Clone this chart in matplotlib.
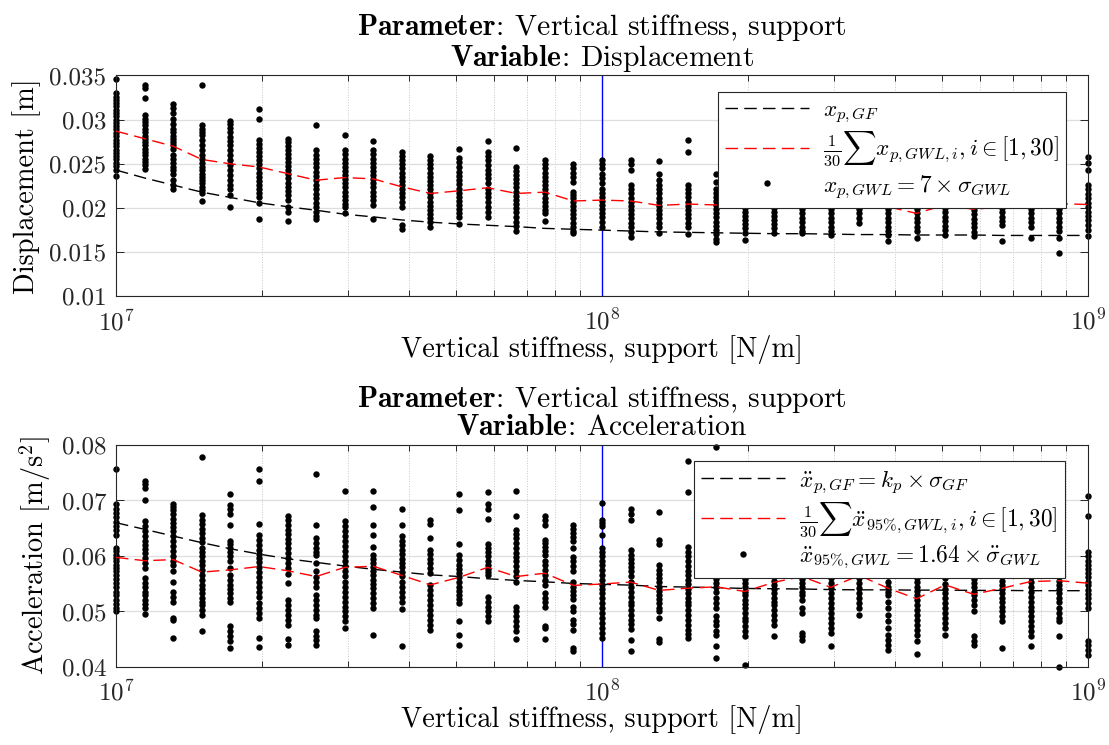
import numpy as np
import matplotlib.pyplot as plt
from matplotlib.lines import Line2D
from matplotlib.ticker import NullFormatter

plt.rcParams['font.family'] = 'serif'
plt.rcParams['font.serif'] = ['cmr10']
plt.rcParams['mathtext.fontset'] = 'cm'
plt.rcParams['axes.unicode_minus'] = False
plt.rcParams['font.size'] = 18

# Parameter sweep: vertical support stiffness [N/m], 35 log-spaced cases
stiffness = np.logspace(7, 9, 35)

# Displacement per case, GWL realisations [mm]
disp_gwl = [
    [34.6, 33.0, 32.6, 32.25, 31.9, 31.5, 31.1, 30.75, 30.4, 30.0, 29.6, 29.25, 28.9, 28.5, 28.1, 27.75, 27.35, 27.0, 26.6, 26.25, 25.85, 25.5, 25.1, 24.75, 24.3, 23.6],
    [33.9, 33.6, 32.4, 30.5, 30.1, 29.75, 29.4, 29.0, 28.6, 28.2, 27.85, 27.5, 27.1, 26.7, 26.35, 26.0, 25.6, 25.2, 24.85, 24.4],
    [31.8, 31.35, 30.7, 30.1, 29.55, 29.0, 28.6, 28.2, 27.85, 27.5, 27.1, 26.7, 26.0, 25.6, 25.05, 24.65, 24.3, 23.9, 23.15, 22.6, 22.2],
    [33.9, 29.35, 29.0, 28.6, 28.25, 27.65, 27.1, 26.55, 26.0, 25.6, 25.05, 24.65, 24.3, 23.9, 23.55, 23.15, 22.8, 22.4, 22.05, 21.65, 20.8],
    [29.85, 29.5, 29.1, 28.6, 28.05, 27.6, 27.1, 26.55, 26.0, 25.4, 24.85, 24.3, 23.7, 23.15, 22.6, 22.2, 21.45, 20.15],
    [31.25, 30.05, 27.65, 27.3, 26.85, 26.35, 25.85, 25.4, 24.95, 24.5, 24.0, 23.55, 23.1, 22.6, 22.1, 21.65, 21.3, 20.6, 18.8],
    [27.85, 27.5, 27.0, 26.55, 26.1, 25.7, 25.2, 24.75, 24.3, 23.85, 23.35, 22.85, 22.4, 21.95, 21.45, 20.9, 20.15, 19.5, 18.55],
    [29.35, 26.55, 26.0, 25.5, 25.05, 24.6, 24.1, 23.6, 23.15, 22.6, 22.1, 21.6, 21.1, 20.6, 20.15, 19.6, 19.15, 18.75],
    [28.25, 26.55, 26.1, 25.6, 25.15, 24.65, 24.2, 23.7, 23.25, 22.8, 22.35, 21.85, 21.4, 20.9, 20.5, 20.15, 19.4],
    [27.6, 26.55, 26.1, 25.6, 25.1, 24.65, 24.2, 23.7, 23.25, 22.8, 22.35, 21.85, 21.35, 20.9, 20.35, 18.75],
    [26.35, 25.85, 25.4, 24.95, 24.5, 24.0, 23.55, 23.1, 22.6, 22.1, 21.65, 21.2, 20.7, 20.15, 18.1, 17.6],
    [25.85, 25.4, 24.95, 24.5, 24.0, 23.55, 23.1, 22.6, 22.1, 21.65, 21.2, 20.7, 20.2, 19.75, 19.3, 18.85, 18.45, 17.8],
    [26.7, 25.7, 25.2, 24.65, 24.1, 23.6, 23.15, 22.7, 22.2, 21.7, 21.3, 20.8, 20.35, 19.85, 19.4, 18.95, 18.25],
    [27.55, 26.35, 25.85, 25.4, 24.85, 24.35, 23.85, 23.35, 22.8, 22.2, 21.75, 21.3, 20.7, 20.15, 19.6, 19.0],
    [26.75, 24.65, 24.2, 23.7, 23.25, 22.8, 22.35, 21.85, 21.35, 20.9, 20.45, 19.95, 19.5, 19.0, 18.45, 17.95, 17.45],
    [25.4, 24.95, 24.5, 24.0, 23.55, 23.1, 22.6, 22.1, 21.65, 21.15, 20.7, 20.2, 19.75, 19.4, 18.55],
    [24.95, 24.5, 24.0, 23.55, 23.0, 21.85, 21.45, 21.1, 20.7, 20.2, 19.75, 19.3, 18.85, 18.35, 17.9, 17.45, 17.15],
    [25.4, 24.95, 24.5, 23.9, 23.35, 22.8, 22.2, 21.75, 21.3, 20.8, 20.35, 19.85, 19.4, 18.95, 18.45, 17.9],
    [25.4, 24.95, 24.35, 22.6, 22.1, 21.65, 21.15, 20.7, 20.2, 19.75, 19.3, 18.85, 18.35, 17.9, 17.3, 16.7],
    [25.35, 23.9, 23.15, 22.6, 22.1, 21.65, 21.15, 20.7, 20.2, 19.75, 19.3, 18.85, 18.35, 17.9, 17.15],
    [27.75, 26.35, 22.6, 22.1, 21.65, 21.2, 20.7, 20.2, 19.75, 19.3, 18.85, 18.35, 17.9, 17.05],
    [23.8, 23.0, 22.2, 21.75, 21.3, 20.8, 20.35, 19.85, 19.4, 18.95, 18.45, 17.95, 17.5, 17.05, 16.55, 16.2],
    [24.5, 23.5, 22.4, 21.95, 21.45, 21.0, 20.5, 20.05, 19.6, 19.1, 18.65, 18.2, 17.7, 17.2, 16.4],
    [23.2, 22.4, 21.95, 21.45, 21.0, 20.5, 20.05, 19.6, 19.1, 18.65, 18.2, 17.7, 17.2],
    [24.3, 23.5, 22.4, 21.9, 21.4, 20.9, 20.4, 19.9, 19.4, 18.9, 18.4, 17.9, 17.4, 17.15],
    [23.6, 22.4, 21.9, 21.4, 20.9, 20.4, 19.9, 19.4, 18.9, 18.4, 17.9, 17.4, 16.95],
    [24.5, 23.5, 22.4, 21.9, 21.4, 20.9, 20.4, 19.9, 19.4, 18.9, 18.3],
    [22.4, 21.9, 21.4, 20.9, 20.4, 19.9, 19.4, 18.9, 18.4, 17.9, 17.4, 17.0, 16.3],
    [22.4, 21.9, 21.4, 20.9, 20.4, 19.9, 19.4, 18.9, 18.4, 17.9, 17.4, 16.6],
    [23.0, 22.0, 21.5, 21.0, 20.5, 20.0, 19.5, 19.0, 18.5, 18.0, 17.5, 17.0],
    [22.4, 21.9, 21.3, 20.8, 20.3, 19.8, 19.3, 18.8, 18.3, 17.8, 17.3, 16.8],
    [23.0, 22.0, 21.5, 21.0, 20.5, 20.0, 19.5, 19.0, 18.5, 18.1, 16.3],
    [22.4, 21.9, 21.4, 20.9, 20.4, 19.9, 19.4, 18.9, 18.4, 17.9, 16.6],
    [22.4, 21.9, 21.4, 20.9, 20.4, 19.9, 19.4, 18.9, 18.4, 17.9, 17.4, 16.6, 14.9],
    [25.8, 25.05, 24.3, 22.6, 22.1, 21.6, 21.1, 20.6, 20.1, 19.6, 19.1, 18.6, 18.1, 17.5, 16.8],
]

# Mean over the GWL realisations and the GF reference [mm]
disp_mean = [28.7, 27.85, 27.0, 25.5, 25.0, 24.65, 23.9, 23.15, 23.45, 23.3, 22.4, 21.65,
             21.95, 22.3, 21.65, 21.8, 20.8, 20.9, 20.8, 20.3, 20.45, 20.35, 20.3, 20.5,
             20.9, 20.35, 21.1, 20.15, 19.4, 20.35, 19.85, 20.15, 20.4, 20.5, 20.4]
disp_gf = [24.3, 23.4, 22.6, 21.8, 21.2, 20.6, 20.15, 19.75, 19.3, 19.0, 18.65, 18.4,
           18.2, 18.05, 17.9, 17.7, 17.6, 17.5, 17.4, 17.3, 17.25, 17.2, 17.15, 17.1,
           17.1, 17.05, 17.0, 17.0, 16.95, 16.95, 16.95, 16.9, 16.9, 16.9, 16.9]

# 95% acceleration per case [1e-3 m/s^2]
accel_gwl = [
    [75.6, 69.3, 68.55, 67.8, 67.0, 66.15, 65.35, 64.6, 63.85, 61.45, 60.85, 60.25, 59.65, 59.05, 58.45, 57.85, 57.25, 56.6, 55.9, 55.1, 54.35, 53.6, 52.9, 52.1, 51.35, 50.6, 50.0],
    [73.5, 72.9, 72.3, 70.0, 66.25, 65.35, 64.45, 63.55, 62.75, 62.05, 61.3, 60.55, 59.65, 58.75, 57.85, 56.0, 55.1, 54.35, 53.6, 52.9, 52.1, 51.35, 50.6, 49.5],
    [69.4, 68.8, 68.2, 67.5, 66.75, 65.95, 65.2, 64.45, 63.55, 62.65, 61.75, 60.85, 59.95, 59.15, 58.45, 57.35, 55.4, 53.6, 52.7, 51.8, 48.9, 48.5, 45.3],
    [77.9, 67.35, 66.55, 65.8, 64.95, 64.15, 63.25, 62.55, 61.45, 60.75, 59.95, 59.15, 58.45, 57.55, 56.6, 55.7, 54.8, 54.1, 53.3, 52.5, 51.8, 51.1, 50.3, 49.4, 46.4],
    [71.1, 69.15, 68.4, 67.5, 65.55, 62.75, 62.15, 61.45, 60.75, 59.95, 59.15, 57.85, 56.6, 55.7, 54.8, 54.1, 53.3, 52.4, 51.8, 47.45, 46.4, 45.5, 44.6, 43.5],
    [75.6, 73.5, 65.8, 63.85, 62.95, 62.05, 61.15, 60.35, 59.65, 58.85, 57.95, 57.1, 56.15, 55.3, 54.35, 53.5, 52.55, 51.5, 50.7, 49.7, 48.8, 45.2, 43.65],
    [67.2, 66.4, 65.55, 64.75, 63.95, 63.15, 62.35, 61.45, 60.55, 59.65, 58.75, 57.85, 56.75, 55.1, 52.1, 51.2, 50.3, 49.4, 48.5, 47.6, 45.05, 43.95],
    [74.8, 65.65, 63.25, 62.35, 61.45, 60.75, 60.1, 58.75, 57.25, 56.3, 55.4, 54.5, 53.0, 52.1, 51.2, 50.3, 49.4, 48.8, 46.4, 45.65, 44.9, 44.0],
    [71.7, 66.25, 65.35, 64.45, 63.55, 62.65, 61.75, 60.85, 59.95, 59.05, 58.15, 57.25, 56.35, 55.4, 54.5, 53.6, 52.7, 51.8, 50.9, 50.0, 49.1, 48.2, 47.0],
    [71.7, 68.8, 65.55, 63.85, 61.55, 60.25, 59.5, 58.75, 57.95, 57.25, 56.5, 55.7, 54.95, 54.2, 53.3, 52.4, 51.5, 50.6, 45.8],
    [68.55, 65.65, 63.55, 62.75, 62.05, 61.15, 60.35, 59.5, 58.75, 57.95, 57.1, 56.35, 55.4, 54.5, 53.6, 52.7, 51.8, 50.45, 43.85],
    [66.55, 65.8, 63.25, 61.15, 60.35, 59.5, 58.75, 57.85, 57.0, 54.8, 53.9, 53.0, 52.1, 51.2, 50.3, 49.4, 48.5, 47.6, 46.7],
    [71.2, 68.2, 62.15, 60.25, 59.35, 58.45, 57.7, 56.95, 56.15, 55.4, 54.5, 53.75, 53.0, 52.3, 51.5, 48.3, 45.8, 44.0],
    [71.6, 69.3, 68.55, 66.75, 62.15, 61.45, 60.75, 59.95, 59.15, 58.45, 57.7, 57.1, 56.6, 52.7, 51.8, 50.9, 50.0, 49.1, 48.2],
    [71.7, 67.2, 64.75, 63.95, 63.25, 62.35, 61.45, 60.55, 59.75, 59.05, 58.15, 57.25, 56.35, 55.4, 50.9, 50.0, 49.1, 48.2, 47.3, 46.4, 45.05],
    [67.2, 66.4, 65.65, 62.95, 62.35, 61.55, 60.85, 60.1, 59.15, 58.3, 57.55, 56.6, 55.7, 54.8, 53.3, 52.4, 51.7, 50.9, 47.45, 47.0, 45.05],
    [65.65, 64.95, 64.15, 63.4, 62.65, 61.45, 59.75, 59.05, 58.15, 57.25, 55.4, 54.5, 53.75, 53.0, 52.3, 50.9, 50.0, 48.5, 47.7, 46.7, 43.5, 42.8],
    [69.6, 66.55, 65.95, 65.35, 63.85, 61.45, 60.75, 59.95, 59.15, 58.45, 57.55, 56.6, 55.7, 54.8, 54.1, 53.3, 52.4, 51.5, 50.6, 49.7, 48.8, 47.9, 47.0, 46.1, 45.2],
    [68.55, 67.5, 66.4, 61.15, 60.25, 59.5, 58.75, 57.95, 57.25, 56.35, 55.4, 54.5, 53.6, 52.7, 51.8, 51.1, 50.3, 49.4, 48.5, 47.7, 46.85, 44.9, 42.8],
    [67.9, 62.95, 62.15, 58.3, 57.55, 56.75, 56.0, 55.3, 54.5, 53.75, 53.0, 52.3, 51.5, 50.7, 50.0, 48.9, 45.05, 44.45],
    [77.2, 71.6, 61.55, 60.75, 59.95, 59.05, 58.15, 57.25, 56.5, 55.7, 54.95, 54.1, 53.3, 52.5, 51.8, 51.1, 50.3, 49.4, 48.5, 47.6, 46.7, 45.9, 45.2],
    [79.6, 65.0, 62.0, 59.35, 58.45, 57.55, 56.75, 55.9, 55.1, 54.35, 53.6, 52.4, 51.5, 50.6, 49.1, 48.2, 47.5, 46.4, 45.8, 43.85, 41.7],
    [64.0, 62.0, 59.75, 58.9, 58.15, 57.35, 56.6, 55.9, 55.1, 54.35, 53.6, 52.9, 52.1, 51.35, 50.6, 49.7, 48.9, 48.2, 47.3, 46.4, 45.5, 40.4],
    [61.0, 59.5, 58.75, 57.85, 57.1, 56.35, 55.55, 54.8, 54.1, 53.3, 52.5, 51.8, 51.1, 50.3, 49.4, 48.5, 47.6, 45.5],
    [63.0, 62.0, 59.65, 58.9, 58.15, 57.35, 56.6, 55.9, 55.1, 54.35, 53.6, 52.9, 52.1, 50.6, 49.7, 46.1, 45.5, 44.9],
    [61.5, 59.65, 58.75, 57.85, 56.95, 56.05, 55.1, 54.2, 53.3, 52.4, 51.5, 50.6, 49.7, 48.8, 47.9, 47.0, 46.1, 43.7],
    [64.0, 62.0, 59.35, 58.75, 58.15, 56.6, 56.05, 55.1, 54.2, 53.3, 52.4, 51.5, 50.6, 49.4],
    [63.5, 62.0, 59.65, 58.75, 57.85, 57.1, 56.35, 55.4, 54.5, 53.6, 53.0, 51.8, 50.6, 49.4, 48.2, 47.0, 45.8, 44.9, 44.0, 43.1],
    [57.55, 56.75, 56.0, 55.3, 54.5, 53.75, 53.0, 52.1, 51.2, 50.3, 49.4, 48.5, 47.6, 46.7, 45.8, 44.6, 42.3],
    [63.0, 61.5, 59.65, 58.75, 57.85, 56.95, 56.05, 54.95, 54.1, 53.3, 52.4, 51.5, 50.6, 49.7, 48.8, 47.9, 47.0, 45.8],
    [62.5, 61.0, 59.5, 56.6, 55.9, 55.1, 54.35, 53.6, 52.9, 52.1, 51.2, 50.0, 45.5, 44.7, 44.0],
    [61.5, 59.35, 58.55, 57.85, 57.1, 56.35, 55.55, 54.8, 54.1, 53.3, 52.5, 51.8, 50.9, 50.0, 49.1, 48.2, 43.5],
    [59.15, 58.45, 57.7, 56.95, 56.15, 55.4, 54.5, 53.6, 52.7, 51.8, 50.9, 50.0, 49.1, 48.2, 47.3, 46.4, 45.5, 43.85],
    [61.5, 60.0, 57.85, 57.1, 56.35, 55.55, 54.8, 54.1, 53.3, 52.5, 51.8, 50.6, 49.7, 48.9, 48.2, 45.5, 40.05],
    [70.8, 67.2, 60.75, 59.95, 59.15, 58.45, 57.7, 56.95, 56.15, 55.4, 54.7, 53.9, 53.1, 52.4, 51.5, 50.6, 44.6, 43.9, 43.1, 42.2],
]

accel_mean = [59.75, 59.15, 59.35, 57.1, 57.5, 58.1, 57.35, 56.3, 57.95, 58.15, 56.5, 54.8,
              56.15, 57.95, 56.3, 56.9, 54.7, 54.95, 55.3, 53.8, 54.2, 54.45, 53.6, 55.25,
              56.3, 54.35, 56.5, 54.2, 52.3, 54.8, 53.1, 54.2, 55.4, 55.55, 55.1]
accel_gf = [66.0, 64.8, 63.6, 62.4, 61.3, 60.35, 59.5, 58.85, 58.2, 57.6, 57.1, 56.6,
            56.3, 55.9, 55.6, 55.35, 55.05, 54.9, 54.75, 54.5, 54.4, 54.3, 54.15, 54.1,
            54.05, 53.95, 53.9, 53.9, 53.85, 53.85, 53.8, 53.8, 53.75, 53.75, 53.75]

DASH = (0, (9, 4.5))
EDGE = (0.15, 0.15, 0.15)
TICK_FS = 18
LABEL_FS = 20.4
TITLE_FS = 21.3
LEGEND_FS = 16.8


def flatten(cols):
    xs = np.concatenate([np.full(len(c), k) for k, c in zip(stiffness, cols)])
    ys = np.concatenate([np.asarray(c) for c in cols]) / 1000
    return xs, ys


def style_axis(ax, ylim, yticks, ylabels):
    ax.set_xscale('log')
    ax.set_xlim(1e7, 1e9)
    ax.set_ylim(*ylim)
    ax.set_yticks(yticks)
    ax.set_yticklabels(ylabels)
    ax.set_xticks([1e7, 1e8, 1e9])
    ax.set_xticklabels(['$10^{7}$', '$10^{8}$', '$10^{9}$'])
    ax.xaxis.set_minor_formatter(NullFormatter())
    ax.grid(which='major', axis='y', color='0.87', lw=0.9)
    ax.grid(which='both', axis='x', color='0.78', ls=':', lw=0.7)
    ax.set_axisbelow(True)
    ax.tick_params(which='both', direction='in', top=True, right=True,
                   colors=EDGE, labelsize=TICK_FS, width=0.7)
    ax.tick_params(which='major', length=6)
    ax.tick_params(which='minor', length=4)
    ax.tick_params(axis='x', pad=9)
    ax.tick_params(axis='y', pad=7)
    for s in ax.spines.values():
        s.set_color(EDGE)
        s.set_linewidth(0.8)
    ax.set_xlabel('Vertical stiffness, support [N/m]', fontsize=LABEL_FS, labelpad=0)


def draw_panel(ax, pts, mean, gf):
    xs, ys = flatten(pts)
    ax.axvline(1e8, color=(0, 0, 1), lw=1.0, zorder=1.5)
    ax.plot(xs, ys, 'o', ms=4.6, color='k', mec='none', clip_on=False, zorder=2)
    ax.plot(stiffness, np.asarray(gf) / 1000, color='k', ls=DASH, lw=1.0, zorder=3)
    ax.plot(stiffness, np.asarray(mean) / 1000, color='r', ls=DASH, lw=1.0, zorder=3)
    return [Line2D([], [], color='k', ls=DASH, lw=1.0),
            Line2D([], [], color='r', ls=DASH, lw=1.0),
            Line2D([], [], color='k', ls='none', marker='o', ms=4.6, mec='none')]


def add_legend(ax, handles, labels, anchor):
    leg = ax.legend(handles, labels, loc='upper right', bbox_to_anchor=anchor,
                    borderaxespad=0, fancybox=False, framealpha=1, edgecolor=EDGE,
                    fontsize=LEGEND_FS, handlelength=3.6, handletextpad=0.6,
                    labelspacing=0.2, borderpad=0.3)
    leg.get_frame().set_linewidth(0.8)
    return leg


def panel_title(ax, variable):
    ax.set_title('$\\mathbf{Parameter\\!:\\!}$ Vertical stiffness, support\n'
                 '$\\mathbf{Variable\\!:\\!}$ ' + variable,
                 fontsize=TITLE_FS, pad=7, linespacing=1.0)


fig = plt.figure(figsize=(11.09, 7.45), dpi=100)
ax1 = fig.add_axes([0.1046, 0.6021, 0.8765, 0.2966])
ax2 = fig.add_axes([0.1046, 0.1047, 0.8765, 0.298])

# Displacement panel
h1 = draw_panel(ax1, disp_gwl, disp_mean, disp_gf)
style_axis(ax1, (0.01, 0.035), np.arange(0.01, 0.0351, 0.005),
           ['0.01', '0.015', '0.02', '0.025', '0.03', '0.035'])
ax1.set_ylabel('Displacement [m]', fontsize=LABEL_FS, labelpad=6)
panel_title(ax1, 'Displacement')
add_legend(ax1, h1, ['$x_{p,GF}$',
                     '$\\frac{1}{30}\\sum x_{p,GWL,i}, i \\in [1,30]$',
                     '$x_{p,GWL} = 7 \\times \\sigma_{GWL}$'],
           (0.977, 0.925))

# Acceleration panel
h2 = draw_panel(ax2, accel_gwl, accel_mean, accel_gf)
style_axis(ax2, (0.04, 0.08), np.arange(0.04, 0.0801, 0.01),
           ['0.04', '0.05', '0.06', '0.07', '0.08'])
ax2.set_ylabel('Acceleration [m/s$^2$]', fontsize=LABEL_FS, labelpad=6)
panel_title(ax2, 'Acceleration')
add_legend(ax2, h2, ['$\\ddot{x}_{p,GF} = k_p \\times \\sigma_{GF}$',
                     '$\\frac{1}{30}\\sum \\ddot{x}_{95\\%,GWL,i}, i \\in [1,30]$',
                     '$\\ddot{x}_{95\\%,GWL} = 1.64 \\times \\ddot{\\sigma}_{GWL}$'],
           (0.976, 0.928))

fig.savefig('out.png', dpi=100)
